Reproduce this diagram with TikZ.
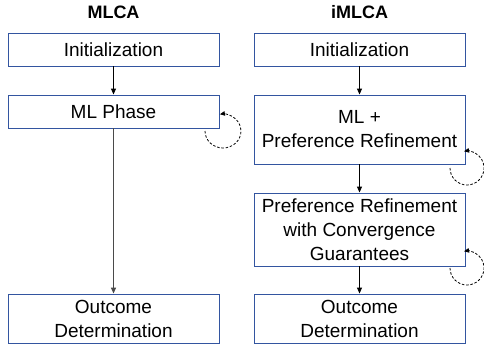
\documentclass[tikz,border=0pt]{standalone}
\usepackage{fontspec}
\setmainfont{Liberation Sans}
\usetikzlibrary{arrows.meta}
\definecolor{boxblue}{HTML}{3355A0}
\definecolor{linegray}{HTML}{4A4A4A}
\begin{document}
\begin{tikzpicture}[x=1pt,y=-1pt,
  box/.style={draw=boxblue, line width=0.9pt, fill=white, minimum width=211pt, inner sep=0pt, align=center, font=\fontsize{19}{24}\selectfont},
  ttl/.style={font=\fontsize{18}{20}\selectfont\bfseries},
  flow/.style={-{Triangle[length=6pt,width=5pt]}, line width=0.9pt},
  loop/.style={dash pattern=on 2.5pt off 1.8pt, line width=0.8pt, -{Triangle[length=5pt,width=4.5pt]}}]
\useasboundingbox (0,0) rectangle (484,349);
% titles
\node[ttl] (t1) at (113.5,12) {MLCA};
\node[ttl] (t2) at (359.5,12) {iMLCA};
% left column
\node[box, minimum height=33pt] (li) at (113.5,49.5) {Initialization};
\node[box, minimum height=33pt] (lm) at (113.5,111.5) {ML Phase};
\node[box, minimum height=49pt] (lo) at (113.5,318.5) {Outcome\\Determination};
% right column
\node[box, minimum height=33pt] (ri) at (359.5,49.5) {Initialization};
\node[box, minimum height=69pt] (rm) at (359.5,129.5) {ML +\\Preference Refinement};
\node[box, minimum height=73pt] (rp) at (359.5,229.5) {Preference Refinement\\with Convergence\\Guarantees};
\node[box, minimum height=49pt] (ro) at (359.5,318.5) {Outcome\\Determination};
% flows
\draw[flow] (li) -- (lm);
\draw[flow, draw=linegray, line width=1.2pt] (lm) -- (lo);
\draw[flow] (ri) -- (rm);
\draw[flow] (rm) -- (rp);
\draw[flow] (rp) -- (ro);
% self loops
\coordinate (l1) at (205,131);
\coordinate (r1) at (450,168);
\coordinate (r2) at (450,268);
\draw[loop] (l1) arc[start angle=180, end angle=-100, x radius=18, y radius=17];
\draw[loop] (r1) arc[start angle=180, end angle=-100, radius=17];
\draw[loop] (r2) arc[start angle=180, end angle=-100, radius=17];
\end{tikzpicture}
\end{document}
